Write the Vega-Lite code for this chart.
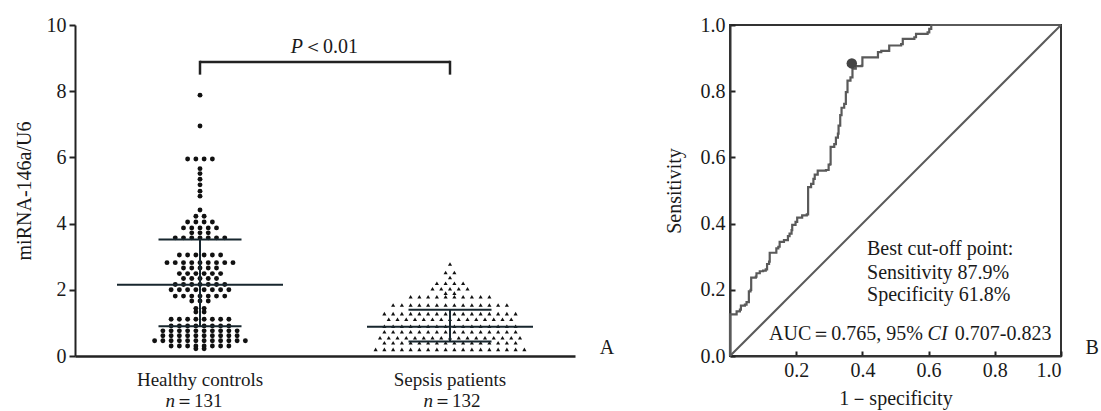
{
  "$schema": "https://vega.github.io/schema/vega-lite/v6.json",
  "background": "white",
  "padding": {"left": 14, "top": 14, "right": 0, "bottom": 0},
  "config": {
    "font": "Liberation Serif, Times New Roman, DejaVu Serif, serif",
    "view": {"stroke": null},
    "axis": {
      "labelFont": "Liberation Serif, Times New Roman, DejaVu Serif, serif", "titleFont": "Liberation Serif, Times New Roman, DejaVu Serif, serif",
      "labelFontSize": 20, "titleFontSize": 20, "titleFontWeight": "normal",
      "labelColor": "#1a1a1a", "titleColor": "#1a1a1a", "grid": false,
      "domainColor": "#222222", "tickColor": "#222222", "domainWidth": 2, "tickWidth": 2
    },
    "text": {"font": "Liberation Serif, Times New Roman, DejaVu Serif, serif", "fontSize": 20, "color": "#1a1a1a"}
  },
  "datasets": {
    "dots": [
      {"g":1,"v":7.88},{"g":1,"v":6.95},
      {"g":1,"v":5.95},{"g":1,"v":5.95},{"g":1,"v":5.95},{"g":1,"v":5.95},
      {"g":1,"v":5.66},{"g":1,"v":5.51},{"g":1,"v":5.34},{"g":1,"v":5.17},{"g":1,"v":4.98},{"g":1,"v":4.83},{"g":1,"v":4.41},
      {"g":1,"v":4.22},{"g":1,"v":4.22},
      {"g":1,"v":4.05},{"g":1,"v":4.05},{"g":1,"v":4.05},{"g":1,"v":4.05},
      {"g":1,"v":3.87},{"g":1,"v":3.87},{"g":1,"v":3.87},{"g":1,"v":3.87},{"g":1,"v":3.87},
      {"g":1,"v":3.72},{"g":1,"v":3.72},{"g":1,"v":3.72},
      {"g":1,"v":3.57},{"g":1,"v":3.57},{"g":1,"v":3.57},{"g":1,"v":3.57},{"g":1,"v":3.57},{"g":1,"v":3.57},{"g":1,"v":3.57},
      {"g":1,"v":3.05},{"g":1,"v":3.05},{"g":1,"v":3.05},{"g":1,"v":3.05},{"g":1,"v":3.05},{"g":1,"v":3.05},
      {"g":1,"v":2.82},{"g":1,"v":2.82},{"g":1,"v":2.82},{"g":1,"v":2.82},{"g":1,"v":2.82},{"g":1,"v":2.82},{"g":1,"v":2.82},{"g":1,"v":2.82},{"g":1,"v":2.82},
      {"g":1,"v":2.66},{"g":1,"v":2.66},{"g":1,"v":2.66},{"g":1,"v":2.66},{"g":1,"v":2.66},
      {"g":1,"v":2.49},{"g":1,"v":2.49},{"g":1,"v":2.49},{"g":1,"v":2.49},{"g":1,"v":2.49},{"g":1,"v":2.49},
      {"g":1,"v":2.34},{"g":1,"v":2.34},{"g":1,"v":2.34},{"g":1,"v":2.34},{"g":1,"v":2.34},
      {"g":1,"v":2.16},{"g":1,"v":2.16},{"g":1,"v":2.16},{"g":1,"v":2.16},{"g":1,"v":2.16},{"g":1,"v":2.16},{"g":1,"v":2.16},
      {"g":1,"v":2.00},{"g":1,"v":2.00},{"g":1,"v":2.00},{"g":1,"v":2.00},{"g":1,"v":2.00},{"g":1,"v":2.00},{"g":1,"v":2.00},{"g":1,"v":2.00},
      {"g":1,"v":1.81},{"g":1,"v":1.81},{"g":1,"v":1.81},{"g":1,"v":1.81},{"g":1,"v":1.81},{"g":1,"v":1.81},{"g":1,"v":1.81},
      {"g":1,"v":1.66},{"g":1,"v":1.66},{"g":1,"v":1.66},
      {"g":1,"v":1.44},{"g":1,"v":1.44},
      {"g":1,"v":1.33},{"g":1,"v":1.33},
      {"g":1,"v":1.11},{"g":1,"v":1.11},{"g":1,"v":1.11},{"g":1,"v":1.11},{"g":1,"v":1.11},{"g":1,"v":1.11},{"g":1,"v":1.11},{"g":1,"v":1.11},
      {"g":1,"v":0.91},{"g":1,"v":0.91},{"g":1,"v":0.91},{"g":1,"v":0.91},{"g":1,"v":0.91},{"g":1,"v":0.91},{"g":1,"v":0.91},{"g":1,"v":0.91},
      {"g":1,"v":0.76},{"g":1,"v":0.76},{"g":1,"v":0.76},{"g":1,"v":0.76},{"g":1,"v":0.76},{"g":1,"v":0.76},{"g":1,"v":0.76},{"g":1,"v":0.76},{"g":1,"v":0.76},{"g":1,"v":0.76},
      {"g":1,"v":0.61},{"g":1,"v":0.61},{"g":1,"v":0.61},{"g":1,"v":0.61},{"g":1,"v":0.61},{"g":1,"v":0.61},{"g":1,"v":0.61},{"g":1,"v":0.61},{"g":1,"v":0.61},{"g":1,"v":0.61},
      {"g":1,"v":0.46},{"g":1,"v":0.46},{"g":1,"v":0.46},{"g":1,"v":0.46},{"g":1,"v":0.46},{"g":1,"v":0.46},{"g":1,"v":0.46},{"g":1,"v":0.46},{"g":1,"v":0.46},{"g":1,"v":0.46},{"g":1,"v":0.46},{"g":1,"v":0.46},
      {"g":1,"v":0.30},{"g":1,"v":0.30},{"g":1,"v":0.30},{"g":1,"v":0.30},{"g":1,"v":0.30},{"g":1,"v":0.30},{"g":1,"v":0.30},{"g":1,"v":0.30},
      {"g":1,"v":0.22},{"g":1,"v":0.22},
      {"g":2,"v":2.78},
      {"g":2,"v":2.52},{"g":2,"v":2.52},
      {"g":2,"v":2.37},
      {"g":2,"v":2.20},{"g":2,"v":2.20},{"g":2,"v":2.20},{"g":2,"v":2.20},
      {"g":2,"v":2.03},{"g":2,"v":2.03},{"g":2,"v":2.03},{"g":2,"v":2.03},{"g":2,"v":2.03},
      {"g":2,"v":1.90},{"g":2,"v":1.90},
      {"g":2,"v":1.79},{"g":2,"v":1.79},{"g":2,"v":1.79},{"g":2,"v":1.79},{"g":2,"v":1.79},{"g":2,"v":1.79},{"g":2,"v":1.79},{"g":2,"v":1.79},{"g":2,"v":1.79},{"g":2,"v":1.79},
      {"g":2,"v":1.54},{"g":2,"v":1.54},{"g":2,"v":1.54},{"g":2,"v":1.54},{"g":2,"v":1.54},{"g":2,"v":1.54},{"g":2,"v":1.54},{"g":2,"v":1.54},{"g":2,"v":1.54},{"g":2,"v":1.54},{"g":2,"v":1.54},{"g":2,"v":1.54},{"g":2,"v":1.54},{"g":2,"v":1.54},
      {"g":2,"v":1.28},{"g":2,"v":1.28},{"g":2,"v":1.28},{"g":2,"v":1.28},{"g":2,"v":1.28},{"g":2,"v":1.28},{"g":2,"v":1.28},{"g":2,"v":1.28},{"g":2,"v":1.28},{"g":2,"v":1.28},{"g":2,"v":1.28},{"g":2,"v":1.28},{"g":2,"v":1.28},{"g":2,"v":1.28},{"g":2,"v":1.28},{"g":2,"v":1.28},
      {"g":2,"v":1.11},{"g":2,"v":1.11},{"g":2,"v":1.11},{"g":2,"v":1.11},{"g":2,"v":1.11},{"g":2,"v":1.11},{"g":2,"v":1.11},{"g":2,"v":1.11},{"g":2,"v":1.11},{"g":2,"v":1.11},{"g":2,"v":1.11},{"g":2,"v":1.11},{"g":2,"v":1.11},{"g":2,"v":1.11},{"g":2,"v":1.11},
      {"g":2,"v":0.90},{"g":2,"v":0.90},{"g":2,"v":0.90},{"g":2,"v":0.90},{"g":2,"v":0.90},{"g":2,"v":0.90},{"g":2,"v":0.90},{"g":2,"v":0.90},{"g":2,"v":0.90},{"g":2,"v":0.90},{"g":2,"v":0.90},{"g":2,"v":0.90},{"g":2,"v":0.90},{"g":2,"v":0.90},{"g":2,"v":0.90},{"g":2,"v":0.90},
      {"g":2,"v":0.73},{"g":2,"v":0.73},{"g":2,"v":0.73},{"g":2,"v":0.73},{"g":2,"v":0.73},{"g":2,"v":0.73},{"g":2,"v":0.73},{"g":2,"v":0.73},{"g":2,"v":0.73},{"g":2,"v":0.73},{"g":2,"v":0.73},{"g":2,"v":0.73},{"g":2,"v":0.73},{"g":2,"v":0.73},{"g":2,"v":0.73},{"g":2,"v":0.73},
      {"g":2,"v":0.55},{"g":2,"v":0.55},{"g":2,"v":0.55},{"g":2,"v":0.55},{"g":2,"v":0.55},{"g":2,"v":0.55},{"g":2,"v":0.55},{"g":2,"v":0.55},{"g":2,"v":0.55},{"g":2,"v":0.55},{"g":2,"v":0.55},{"g":2,"v":0.55},{"g":2,"v":0.55},{"g":2,"v":0.55},{"g":2,"v":0.55},{"g":2,"v":0.55},{"g":2,"v":0.55},
      {"g":2,"v":0.40},{"g":2,"v":0.40},{"g":2,"v":0.40},{"g":2,"v":0.40},{"g":2,"v":0.40},{"g":2,"v":0.40},{"g":2,"v":0.40},{"g":2,"v":0.40},{"g":2,"v":0.40},{"g":2,"v":0.40},{"g":2,"v":0.40},{"g":2,"v":0.40},{"g":2,"v":0.40},{"g":2,"v":0.40},{"g":2,"v":0.40},{"g":2,"v":0.40},
      {"g":2,"v":0.20},{"g":2,"v":0.20},{"g":2,"v":0.20},{"g":2,"v":0.20},{"g":2,"v":0.20},{"g":2,"v":0.20},{"g":2,"v":0.20},{"g":2,"v":0.20},{"g":2,"v":0.20},{"g":2,"v":0.20},{"g":2,"v":0.20},{"g":2,"v":0.20},{"g":2,"v":0.20},{"g":2,"v":0.20},{"g":2,"v":0.20},{"g":2,"v":0.20},{"g":2,"v":0.20},{"g":2,"v":0.20}
    ],
    "stats": [
      {"g":1,"mean":2.15,"lo":0.90,"hi":3.52},
      {"g":2,"mean":0.88,"lo":0.44,"hi":1.40}
    ],
    "roc": [
      {"i":0,"fpr":0.000,"tpr":0.000},
      {"i":1,"fpr":0.000,"tpr":0.126},
      {"i":2,"fpr":0.015,"tpr":0.126},
      {"i":3,"fpr":0.020,"tpr":0.135},
      {"i":4,"fpr":0.030,"tpr":0.140},
      {"i":5,"fpr":0.033,"tpr":0.152},
      {"i":6,"fpr":0.045,"tpr":0.155},
      {"i":7,"fpr":0.050,"tpr":0.163},
      {"i":8,"fpr":0.057,"tpr":0.195},
      {"i":9,"fpr":0.062,"tpr":0.200},
      {"i":10,"fpr":0.064,"tpr":0.237},
      {"i":11,"fpr":0.078,"tpr":0.240},
      {"i":12,"fpr":0.080,"tpr":0.250},
      {"i":13,"fpr":0.090,"tpr":0.256},
      {"i":14,"fpr":0.100,"tpr":0.258},
      {"i":15,"fpr":0.108,"tpr":0.262},
      {"i":16,"fpr":0.112,"tpr":0.278},
      {"i":17,"fpr":0.118,"tpr":0.285},
      {"i":18,"fpr":0.120,"tpr":0.312},
      {"i":19,"fpr":0.133,"tpr":0.312},
      {"i":20,"fpr":0.140,"tpr":0.325},
      {"i":21,"fpr":0.146,"tpr":0.330},
      {"i":22,"fpr":0.150,"tpr":0.345},
      {"i":23,"fpr":0.163,"tpr":0.350},
      {"i":24,"fpr":0.175,"tpr":0.362},
      {"i":25,"fpr":0.180,"tpr":0.370},
      {"i":26,"fpr":0.186,"tpr":0.380},
      {"i":27,"fpr":0.188,"tpr":0.396},
      {"i":28,"fpr":0.198,"tpr":0.405},
      {"i":29,"fpr":0.203,"tpr":0.418},
      {"i":30,"fpr":0.218,"tpr":0.425},
      {"i":31,"fpr":0.232,"tpr":0.428},
      {"i":32,"fpr":0.236,"tpr":0.432},
      {"i":33,"fpr":0.236,"tpr":0.510},
      {"i":34,"fpr":0.245,"tpr":0.520},
      {"i":35,"fpr":0.252,"tpr":0.535},
      {"i":36,"fpr":0.256,"tpr":0.548},
      {"i":37,"fpr":0.265,"tpr":0.560},
      {"i":38,"fpr":0.290,"tpr":0.562},
      {"i":39,"fpr":0.298,"tpr":0.578},
      {"i":40,"fpr":0.303,"tpr":0.580},
      {"i":41,"fpr":0.304,"tpr":0.632},
      {"i":42,"fpr":0.315,"tpr":0.640},
      {"i":43,"fpr":0.320,"tpr":0.660},
      {"i":44,"fpr":0.326,"tpr":0.672},
      {"i":45,"fpr":0.328,"tpr":0.696},
      {"i":46,"fpr":0.333,"tpr":0.728},
      {"i":47,"fpr":0.337,"tpr":0.750},
      {"i":48,"fpr":0.345,"tpr":0.762},
      {"i":49,"fpr":0.350,"tpr":0.797},
      {"i":50,"fpr":0.355,"tpr":0.832},
      {"i":51,"fpr":0.364,"tpr":0.842},
      {"i":52,"fpr":0.370,"tpr":0.868},
      {"i":53,"fpr":0.380,"tpr":0.876},
      {"i":54,"fpr":0.398,"tpr":0.877},
      {"i":55,"fpr":0.400,"tpr":0.902},
      {"i":56,"fpr":0.445,"tpr":0.902},
      {"i":57,"fpr":0.447,"tpr":0.918},
      {"i":58,"fpr":0.457,"tpr":0.922},
      {"i":59,"fpr":0.476,"tpr":0.922},
      {"i":60,"fpr":0.481,"tpr":0.938},
      {"i":61,"fpr":0.517,"tpr":0.942},
      {"i":62,"fpr":0.522,"tpr":0.958},
      {"i":63,"fpr":0.557,"tpr":0.963},
      {"i":64,"fpr":0.562,"tpr":0.973},
      {"i":65,"fpr":0.597,"tpr":0.978},
      {"i":66,"fpr":0.602,"tpr":0.988},
      {"i":67,"fpr":0.608,"tpr":1.000},
      {"i":68,"fpr":1.000,"tpr":1.000}
    ]
  },
  "bounds": "flush",
  "spacing": 155,
  "hconcat": [
    {
      "width": 500,
      "height": 331,
      "layer": [
        {
          "data": {"name": "dots"},
          "transform": [
            {"filter": "datum.g == 1"},
            {"window": [{"op": "row_number", "as": "k"}, {"op": "count", "as": "n"}], "groupby": ["g", "v"], "frame": [null, null]},
            {"calculate": "datum.g + (datum.k - (datum.n + 1) / 2) * 0.033", "as": "xp"}
          ],
          "mark": {"type": "circle", "size": 24, "color": "#111111", "opacity": 1},
          "encoding": {
            "x": {"field": "xp", "type": "quantitative", "scale": {"domain": [0.5, 2.5]},
                  "axis": {"title": null, "labels": false, "ticks": false, "domainWidth": 2.5, "domainColor": "#222222"}},
            "y": {"field": "v", "type": "quantitative", "scale": {"domain": [0, 10]},
                  "axis": {"title": "miRNA-146a/U6", "values": [0, 2, 4, 6, 8, 10], "tickSize": 6, "labelPadding": 3, "titlePadding": 12}}
          }
        },
        {
          "data": {"name": "dots"},
          "transform": [
            {"filter": "datum.g == 2"},
            {"window": [{"op": "row_number", "as": "k"}, {"op": "count", "as": "n"}], "groupby": ["g", "v"], "frame": [null, null]},
            {"calculate": "datum.g + (datum.k - (datum.n + 1) / 2) * 0.035", "as": "xp"}
          ],
          "mark": {"type": "point", "shape": "triangle-up", "size": 17, "filled": true, "color": "#111111", "opacity": 1},
          "encoding": {
            "x": {"field": "xp", "type": "quantitative", "scale": {"domain": [0.5, 2.5]}, "axis": {"title": null}},
            "y": {"field": "v", "type": "quantitative", "scale": {"domain": [0, 10]}, "axis": {"title": "miRNA-146a/U6"}}
          }
        },
        {
          "data": {"name": "stats"},
          "mark": {"type": "tick", "orient": "horizontal", "size": 166, "thickness": 2, "color": "#17262e", "opacity": 1},
          "encoding": {
            "x": {"field": "g", "type": "quantitative", "scale": {"domain": [0.5, 2.5]}, "axis": {"title": null}},
            "y": {"field": "mean", "type": "quantitative", "scale": {"domain": [0, 10]}, "axis": {"title": "miRNA-146a/U6"}}
          }
        },
        {
          "data": {"name": "stats"},
          "mark": {"type": "tick", "orient": "horizontal", "size": 83, "thickness": 2, "color": "#17262e", "opacity": 1},
          "encoding": {
            "x": {"field": "g", "type": "quantitative", "scale": {"domain": [0.5, 2.5]}, "axis": {"title": null}},
            "y": {"field": "lo", "type": "quantitative", "scale": {"domain": [0, 10]}, "axis": {"title": "miRNA-146a/U6"}}
          }
        },
        {
          "data": {"name": "stats"},
          "mark": {"type": "tick", "orient": "horizontal", "size": 83, "thickness": 2, "color": "#17262e", "opacity": 1},
          "encoding": {
            "x": {"field": "g", "type": "quantitative", "scale": {"domain": [0.5, 2.5]}, "axis": {"title": null}},
            "y": {"field": "hi", "type": "quantitative", "scale": {"domain": [0, 10]}, "axis": {"title": "miRNA-146a/U6"}}
          }
        },
        {
          "data": {"name": "stats"},
          "mark": {"type": "rule", "strokeWidth": 2, "color": "#17262e"},
          "encoding": {
            "x": {"field": "g", "type": "quantitative", "scale": {"domain": [0.5, 2.5]}, "axis": {"title": null}},
            "y": {"field": "lo", "type": "quantitative", "scale": {"domain": [0, 10]}, "axis": {"title": "miRNA-146a/U6"}},
            "y2": {"field": "hi"}
          }
        },
        {
          "data": {"values": [{"x": 1, "x2": 2, "y": 8.88}]},
          "mark": {"type": "rule", "strokeWidth": 2.5, "color": "#222222"},
          "encoding": {
            "x": {"field": "x", "type": "quantitative", "scale": {"domain": [0.5, 2.5]}, "axis": {"title": null}},
            "x2": {"field": "x2"},
            "y": {"field": "y", "type": "quantitative", "scale": {"domain": [0, 10]}, "axis": {"title": "miRNA-146a/U6"}}
          }
        },
        {
          "data": {"values": [{"x": 1, "y": 8.5, "y2": 8.92}, {"x": 2, "y": 8.5, "y2": 8.92}]},
          "mark": {"type": "rule", "strokeWidth": 2.5, "color": "#222222"},
          "encoding": {
            "x": {"field": "x", "type": "quantitative", "scale": {"domain": [0.5, 2.5]}, "axis": {"title": null}},
            "y": {"field": "y", "type": "quantitative", "scale": {"domain": [0, 10]}, "axis": {"title": "miRNA-146a/U6"}},
            "y2": {"field": "y2"}
          }
        },
        {
          "data": {"values": [{"x": 1.412, "y": 9.16, "t": "P"}]},
          "mark": {"type": "text", "align": "right", "baseline": "alphabetic", "fontStyle": "italic", "fontSize": 20},
          "encoding": {
            "x": {"field": "x", "type": "quantitative", "scale": {"domain": [0.5, 2.5]}, "axis": {"title": null}},
            "y": {"field": "y", "type": "quantitative", "scale": {"domain": [0, 10]}, "axis": {"title": "miRNA-146a/U6"}},
            "text": {"field": "t"}
          }
        },
        {
          "data": {"values": [{"x": 1.412, "y": 9.16, "t": "＜0.01"}]},
          "mark": {"type": "text", "align": "left", "baseline": "alphabetic", "fontSize": 20},
          "encoding": {
            "x": {"field": "x", "type": "quantitative", "scale": {"domain": [0.5, 2.5]}, "axis": {"title": null}},
            "y": {"field": "y", "type": "quantitative", "scale": {"domain": [0, 10]}, "axis": {"title": "miRNA-146a/U6"}},
            "text": {"field": "t"}
          }
        },
        {
          "data": {"values": [{"x": 0.9, "y": -1.53, "t": "n"}, {"x": 1.932, "y": -1.53, "t": "n"}]},
          "mark": {"type": "text", "align": "right", "baseline": "alphabetic", "fontStyle": "italic", "fontSize": 19},
          "encoding": {
            "x": {"field": "x", "type": "quantitative", "scale": {"domain": [0.5, 2.5]}, "axis": {"title": null}},
            "y": {"field": "y", "type": "quantitative", "scale": {"domain": [0, 10]}, "axis": {"title": "miRNA-146a/U6"}},
            "text": {"field": "t"}
          }
        },
        {
          "data": {"values": [{"x": 0.9, "y": -1.53, "t": "＝131"}, {"x": 1.932, "y": -1.53, "t": "＝132"}]},
          "mark": {"type": "text", "align": "left", "baseline": "alphabetic", "fontSize": 19},
          "encoding": {
            "x": {"field": "x", "type": "quantitative", "scale": {"domain": [0.5, 2.5]}, "axis": {"title": null}},
            "y": {"field": "y", "type": "quantitative", "scale": {"domain": [0, 10]}, "axis": {"title": "miRNA-146a/U6"}},
            "text": {"field": "t"}
          }
        },
        {
          "data": {"values": [{"x": 1, "y": -0.92, "t": "Healthy controls"}, {"x": 2, "y": -0.92, "t": "Sepsis patients"}]},
          "mark": {"type": "text", "align": "center", "baseline": "alphabetic", "fontSize": 19},
          "encoding": {
            "x": {"field": "x", "type": "quantitative", "scale": {"domain": [0.5, 2.5]}, "axis": {"title": null}},
            "y": {"field": "y", "type": "quantitative", "scale": {"domain": [0, 10]}, "axis": {"title": "miRNA-146a/U6"}},
            "text": {"field": "t"}
          }
        },
        {
          "data": {"values": [{"x": 2.628, "y": 0.05, "t": "A"}]},
          "mark": {"type": "text", "align": "center", "baseline": "alphabetic", "fontSize": 20},
          "encoding": {
            "x": {"field": "x", "type": "quantitative", "scale": {"domain": [0.5, 2.5]}, "axis": {"title": null}},
            "y": {"field": "y", "type": "quantitative", "scale": {"domain": [0, 10]}, "axis": {"title": "miRNA-146a/U6"}},
            "text": {"field": "t"}
          }
        }
      ]
    },
    {
      "width": 331,
      "height": 331,
      "view": {"stroke": "#333333", "strokeWidth": 2},
      "layer": [
        {
          "data": {"values": [{"fpr": 0, "tpr": 0}, {"fpr": 1, "tpr": 1}]},
          "mark": {"type": "line", "color": "#5a5a5a", "strokeWidth": 2},
          "encoding": {
            "x": {"field": "fpr", "type": "quantitative", "scale": {"domain": [0, 1]},
                  "axis": {"title": "1－specificity", "values": [0.2, 0.4, 0.6, 0.8, 1.0], "format": ".1f", "tickSize": -5, "labelPadding": 9, "titlePadding": 8, "domainColor": "#333333"}},
            "y": {"field": "tpr", "type": "quantitative", "scale": {"domain": [0, 1]},
                  "axis": {"title": "Sensitivity", "values": [0, 0.2, 0.4, 0.6, 0.8, 1.0], "format": ".1f", "tickSize": -5, "labelPadding": 10, "titlePadding": 16, "domainColor": "#333333"}}
          }
        },
        {
          "data": {"name": "roc"},
          "mark": {"type": "line", "interpolate": "step-after", "color": "#5a5a5a", "strokeWidth": 2.2},
          "encoding": {
            "x": {"field": "fpr", "type": "quantitative", "scale": {"domain": [0, 1]}, "axis": {"title": "1－specificity"}},
            "y": {"field": "tpr", "type": "quantitative", "scale": {"domain": [0, 1]}, "axis": {"title": "Sensitivity"}},
            "order": {"field": "i", "type": "quantitative"}
          }
        },
        {
          "data": {"values": [{"fpr": 0.368, "tpr": 0.884}]},
          "mark": {"type": "circle", "size": 110, "color": "#444444", "opacity": 1},
          "encoding": {
            "x": {"field": "fpr", "type": "quantitative", "scale": {"domain": [0, 1]}, "axis": {"title": "1－specificity"}},
            "y": {"field": "tpr", "type": "quantitative", "scale": {"domain": [0, 1]}, "axis": {"title": "Sensitivity"}}
          }
        },
        {
          "data": {"values": [
            {"x": 0.414, "y": 0.305, "t": "Best cut-off point:"},
            {"x": 0.414, "y": 0.234, "t": "Sensitivity 87.9%"},
            {"x": 0.414, "y": 0.166, "t": "Specificity 61.8%"},
            {"x": 0.679, "y": 0.047, "t": "0.707-0.823"}
          ]},
          "mark": {"type": "text", "align": "left", "baseline": "alphabetic", "fontSize": 20},
          "encoding": {
            "x": {"field": "x", "type": "quantitative", "scale": {"domain": [0, 1]}, "axis": {"title": "1－specificity"}},
            "y": {"field": "y", "type": "quantitative", "scale": {"domain": [0, 1]}, "axis": {"title": "Sensitivity"}},
            "text": {"field": "t"}
          }
        },
        {
          "data": {"values": [{"x": 0.583, "y": 0.047, "t": "AUC＝0.765, 95%"}]},
          "mark": {"type": "text", "align": "right", "baseline": "alphabetic", "fontSize": 20},
          "encoding": {
            "x": {"field": "x", "type": "quantitative", "scale": {"domain": [0, 1]}, "axis": {"title": "1－specificity"}},
            "y": {"field": "y", "type": "quantitative", "scale": {"domain": [0, 1]}, "axis": {"title": "Sensitivity"}},
            "text": {"field": "t"}
          }
        },
        {
          "data": {"values": [{"x": 0.597, "y": 0.047, "t": "CI"}]},
          "mark": {"type": "text", "align": "left", "baseline": "alphabetic", "fontSize": 20, "fontStyle": "italic"},
          "encoding": {
            "x": {"field": "x", "type": "quantitative", "scale": {"domain": [0, 1]}, "axis": {"title": "1－specificity"}},
            "y": {"field": "y", "type": "quantitative", "scale": {"domain": [0, 1]}, "axis": {"title": "Sensitivity"}},
            "text": {"field": "t"}
          }
        },
        {
          "data": {"values": [{"x": 1.094, "y": 0.005, "t": "B"}]},
          "mark": {"type": "text", "align": "center", "baseline": "alphabetic", "fontSize": 20},
          "encoding": {
            "x": {"field": "x", "type": "quantitative", "scale": {"domain": [0, 1]}, "axis": {"title": "1－specificity"}},
            "y": {"field": "y", "type": "quantitative", "scale": {"domain": [0, 1]}, "axis": {"title": "Sensitivity"}},
            "text": {"field": "t"}
          }
        }
      ]
    }
  ]
}
